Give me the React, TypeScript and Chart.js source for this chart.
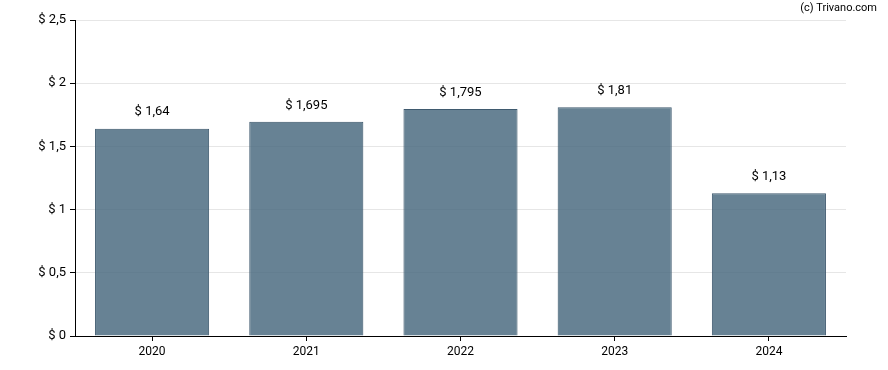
import React, { useEffect, useRef } from "react";
import { Chart, registerables } from "chart.js";

Chart.register(...registerables);

const categories = ["2020", "2021", "2022", "2023", "2024"];
const values = [1.64, 1.695, 1.795, 1.81, 1.13];
const yTicks = [0, 0.5, 1, 1.5, 2, 2.5];

const fmt = (v: number) => "$ " + String(v).replace(".", ",");

const labelPlugin = {
  id: "barLabels",
  afterDatasetsDraw(chart: any) {
    const { ctx } = chart;
    const meta = chart.getDatasetMeta(0);
    ctx.save();
    ctx.font = "13px Roboto";
    ctx.fillStyle = "#000";
    ctx.textAlign = "center";
    ctx.textBaseline = "bottom";
    meta.data.forEach((el: any, i: number) => {
      ctx.fillText(fmt(values[i]), el.x, el.y - 10);
    });
    ctx.restore();
  },
};

const watermarkPlugin = {
  id: "watermark",
  afterDraw(chart: any) {
    const { ctx } = chart;
    ctx.save();
    ctx.font = "11px Roboto";
    ctx.fillStyle = "#000";
    ctx.textAlign = "right";
    ctx.textBaseline = "middle";
    ctx.fillText("(c) Trivano.com", 877, 8);
    ctx.restore();
  },
};

export default function App() {
  const ref = useRef<HTMLCanvasElement>(null);
  useEffect(() => {
    if (!ref.current) return;
    const chart = new Chart(ref.current, {
      type: "bar",
      data: {
        labels: categories,
        datasets: [
          {
            data: values,
            backgroundColor: "rgba(70,102,124,0.82)",
            borderColor: "#3f5a6f",
            borderWidth: 1,
            barPercentage: 0.74,
            categoryPercentage: 1,
          },
        ],
      },
      options: {
        animation: false,
        responsive: false,
        maintainAspectRatio: false,
        layout: { padding: { top: 20, right: 42, left: 0, bottom: 0 } },
        plugins: { legend: { display: false }, tooltip: { enabled: false } },
        scales: {
          x: {
            grid: {
              display: true,
              offset: false,
              drawOnChartArea: false,
              tickLength: 5,
              tickColor: "#000",
            },
            border: { color: "#000", width: 1 },
            ticks: { font: { family: "Roboto", size: 12 }, color: "#000", padding: 4 },
            afterFit(scale: any) {
              scale.height = 34;
            },
          },
          y: {
            min: 0,
            max: 2.5,
            afterBuildTicks(scale: any) {
              scale.ticks = yTicks.map((v) => ({ value: v }));
            },
            grid: {
              color: "#e6e6e6",
              tickLength: 5,
              tickColor: "#000",
            },
            border: { color: "#000", width: 1 },
            ticks: {
              font: { family: "Roboto", size: 13 },
              color: "#000",
              padding: 4,
              callback: (v: any) => fmt(Number(v)),
            },
            afterFit(scale: any) {
              scale.width = 75;
            },
          },
        },
      },
      plugins: [labelPlugin, watermarkPlugin],
    });
    return () => chart.destroy();
  }, []);
  return (
    <div style={{ position: "fixed", left: 0, top: 0, width: 888, height: 370, background: "#fff" }}>
      <canvas ref={ref} width={888} height={370} style={{ width: 888, height: 370 }} />
    </div>
  );
}
